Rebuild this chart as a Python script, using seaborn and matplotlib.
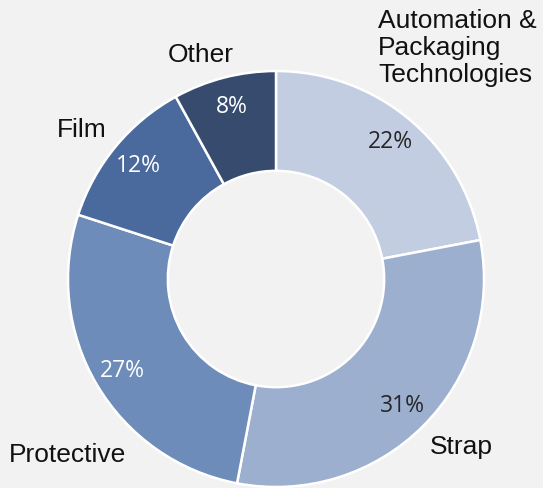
import matplotlib
matplotlib.use("Agg")
import matplotlib.pyplot as plt
import seaborn as sns
import numpy as np

categories = ["Automation &\nPackaging\nTechnologies", "Strap", "Protective", "Film", "Other"]
shares = [22, 31, 27, 12, 8]
pct_labels = ["22%", "31%", "27%", "12%", "8%"]
colors = ["#c3cde1", "#9dafcf", "#6d8cba", "#4a6a9d", "#374b6e"]
pct_colors = ["#262626", "#262626", "white", "white", "white"]

sns.set_theme(style="white")
plt.rcParams["font.family"] = ["Liberation Sans", "DejaVu Sans"]

W, H = 543, 489
fig = plt.figure(figsize=(W / 100, H / 100), dpi=100)
fig.patch.set_facecolor("#f2f2f2")
ax = fig.add_axes([0, 0, 1, 1])
ax.set_facecolor("#f2f2f2")

cx, cy, R = 276, H - 280, 208
wedges, _ = ax.pie(
    shares, colors=colors, startangle=90, counterclock=False,
    center=(cx, cy), radius=R, frame=True,
    wedgeprops=dict(width=R * 0.48, edgecolor="white", linewidth=1.8),
)
ax.set_xlim(0, W)
ax.set_ylim(0, H)
ax.set_aspect("equal")
ax.axis("off")

# percentage labels
cum = np.cumsum([0] + shares[:-1])
total = sum(shares)
for i, (s, c0) in enumerate(zip(shares, cum)):
    mid = np.deg2rad(90 - (c0 + s / 2) / total * 360)
    r = R * 0.86
    ax.text(cx + r * np.cos(mid), cy + r * np.sin(mid), pct_labels[i],
            ha="center", va="center", fontsize=16.5, color=pct_colors[i],
            family=["Open Sans", "DejaVu Sans"])

# category labels (layout positions in pixels: x, y-from-top, ha)
label_layout = [(378, 48, "left"), (461, 447, "center"), (67, 455, "center"),
                (82, 130, "center"), (201, 55, "center")]
for name, (x, y, ha) in zip(categories, label_layout):
    ax.text(x, H - y, name, ha=ha, va="center", fontsize=19, color="#111111",
            linespacing=1.15)

fig.savefig("out.png", dpi=100, facecolor=fig.get_facecolor())
